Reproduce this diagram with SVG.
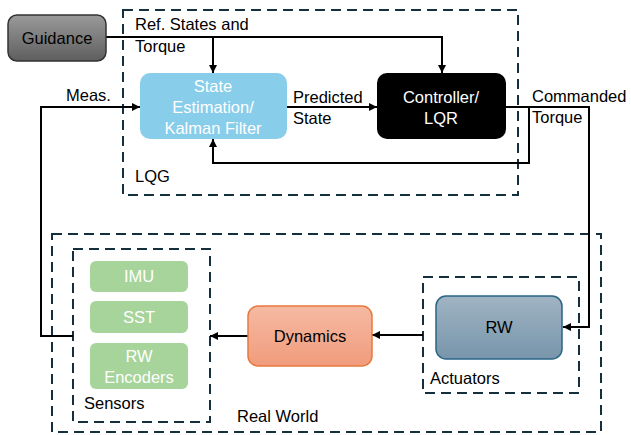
<svg xmlns="http://www.w3.org/2000/svg" width="631" height="435" viewBox="0 0 631 435">
<defs>
<linearGradient id="gGray" x1="0" y1="0" x2="0" y2="1"><stop offset="0" stop-color="#9a9a9a"/><stop offset="1" stop-color="#5e5e5e"/></linearGradient>
<linearGradient id="gOrange" x1="0" y1="0" x2="0" y2="1"><stop offset="0" stop-color="#f5baa3"/><stop offset="1" stop-color="#f19c7c"/></linearGradient>
<linearGradient id="gBlue" x1="0" y1="0" x2="0" y2="1"><stop offset="0" stop-color="#a0b4c3"/><stop offset="1" stop-color="#7895ab"/></linearGradient>
<marker id="ah" viewBox="0 0 10 10" refX="10" refY="5" markerWidth="8" markerHeight="8" markerUnits="userSpaceOnUse" orient="auto"><path d="M0,0 L10,5 L0,10 z" fill="#000"/></marker>
</defs>
<style>
text{font-family:"Liberation Sans",Arial,sans-serif;font-size:16.5px;fill:#000}
.w{fill:#fff}
.c{text-anchor:middle}
.dash{fill:none;stroke:#14303f;stroke-width:2;stroke-dasharray:10,6}
.ln{fill:none;stroke:#000;stroke-width:2}
.arr{marker-end:url(#ah)}
</style>
<rect width="631" height="435" fill="#fff"/>
<g id="lqg"><rect class="dash" x="123" y="10" width="395" height="185"/><text x="135" y="182">LQG</text></g>
<g id="realworld"><rect class="dash" x="52" y="234" width="549" height="198"/><text x="237" y="422">Real World</text></g>
<g id="sensors"><rect class="dash" x="73" y="249" width="137" height="173"/><text x="84" y="409">Sensors</text></g>
<g id="actuators"><rect class="dash" x="423" y="277" width="156" height="116"/><text x="430" y="384">Actuators</text></g>
<g id="connectors">
<path class="ln" d="M106,37 H442 V72"/>
<path class="ln arr" d="M442,37 V73"/>
<path class="ln arr" d="M213,37 V73"/>
<path class="ln arr" d="M287,107 H377"/>
<path class="ln arr" d="M506,107 H589 V327 H563"/>
<path class="ln arr" d="M529,107 V163 H213 V139"/>
<path class="ln arr" d="M73,336 H41 V107 H140"/>
<path class="ln arr" d="M248,336 H210"/>
<path class="ln arr" d="M423,335 H372"/>
<text x="135" y="30">Ref. States and</text>
<text x="135" y="52">Torque</text>
<text x="293" y="103">Predicted</text>
<text x="293" y="124">State</text>
<text x="532" y="102">Commanded</text>
<text x="532" y="123">Torque</text>
<text x="66" y="101">Meas.</text>
</g>
<g id="guidance"><rect x="8" y="15" width="98" height="46" rx="9" fill="url(#gGray)" stroke="#333" stroke-width="1.5"/><text class="c" x="57" y="44">Guidance</text></g>
<g id="estimator"><rect x="140" y="73" width="147" height="66" rx="10" fill="#88cdea"/><text class="c w" x="213" y="92">State</text><text class="c w" x="213" y="113">Estimation/</text><text class="c w" x="213" y="134">Kalman Filter</text></g>
<g id="controller"><rect x="377" y="73" width="129" height="66" rx="10" fill="#000"/><text class="c w" x="441" y="103">Controller/</text><text class="c w" x="441" y="124">LQR</text></g>
<g id="imu"><rect x="90" y="261" width="98" height="31" rx="6" fill="#a6d49a"/><text class="c w" x="139" y="282">IMU</text></g>
<g id="sst"><rect x="90" y="301" width="98" height="32" rx="6" fill="#a6d49a"/><text class="c w" x="139" y="323">SST</text></g>
<g id="rwenc"><rect x="90" y="343" width="98" height="46" rx="6" fill="#a6d49a"/><text class="c w" x="139" y="362">RW</text><text class="c w" x="139" y="383">Encoders</text></g>
<g id="dynamics"><rect x="248" y="306" width="124" height="60" rx="10" fill="url(#gOrange)" stroke="#e8793c" stroke-width="1.5"/><text class="c" x="310" y="342">Dynamics</text></g>
<g id="rw"><rect x="436" y="296" width="126" height="63" rx="10" fill="url(#gBlue)" stroke="#2a6686" stroke-width="1.5"/><text class="c" x="499" y="333">RW</text></g>
</svg>
